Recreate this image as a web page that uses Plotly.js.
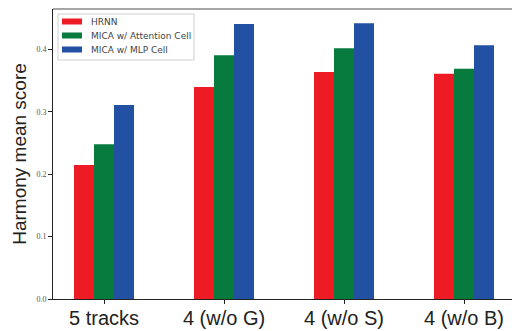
<!DOCTYPE html>
<html>
<head>
<meta charset="utf-8">
<script src="https://cdn.plot.ly/plotly-3.0.1.min.js"></script>
<style>html,body{margin:0;padding:0;background:#fff;}#chart{width:512px;height:331px;}</style>
</head>
<body>
<div id="chart"></div>
<script>
const categories = ["5 tracks", "4 (w/o G)", "4 (w/o S)", "4 (w/o B)"];
const seriesNames = ["HRNN", "MICA w/ Attention Cell", "MICA w/ MLP Cell"];
const hrnn = [0.215, 0.340, 0.364, 0.361];
const micaAttention = [0.248, 0.391, 0.402, 0.369];
const micaMLP = [0.311, 0.441, 0.442, 0.407];
const colors = ["#ED1C24", "#077A3D", "#2250A3"];
const yTicks = [0.0, 0.1, 0.2, 0.3, 0.4];

const W = 512, H = 331;
const M = {l: 53, r: 0, t: 9, b: 32};
const PW = W - M.l - M.r, PH = H - M.t - M.b;
const px = x => (x - M.l) / PW;          // pixel x -> paper x
const py = y => (H - M.b - y) / PH;       // pixel y -> paper y

const seriesValues = [hrnn, micaAttention, micaMLP];
const traces = seriesValues.map((vals, i) => ({
  type: "bar",
  name: seriesNames[i],
  x: categories,
  y: vals,
  marker: {color: colors[i], line: {width: 0}},
  hoverinfo: "none",
  showlegend: false
}));

// custom compact legend (matplotlib style)
const shapes = [{
  type: "line", xref: "paper", yref: "paper", x0: 0, x1: 1, y0: 1, y1: 1,
  line: {color: "#888", width: 1.5}
}, {
  type: "rect", xref: "paper", yref: "paper",
  x0: px(58), x1: px(194), y0: py(60), y1: py(14),
  line: {color: "#d0d0d0", width: 1}, fillcolor: "rgba(255,255,255,0.85)"
}];
const annotations = [];
seriesNames.forEach((name, i) => {
  const cy = 21.5 + i * 14;
  shapes.push({
    type: "rect", xref: "paper", yref: "paper",
    x0: px(62), x1: px(82), y0: py(cy + 3), y1: py(cy - 3),
    line: {width: 0}, fillcolor: colors[i]
  });
  annotations.push({
    xref: "paper", yref: "paper", x: px(89), y: py(cy),
    xanchor: "left", yanchor: "middle", showarrow: false,
    text: name, font: {family: "DejaVu Sans", size: 9, color: "#444"}
  });
});

const layout = {
  width: W, height: H,
  margin: {l: M.l, r: M.r, t: M.t, b: M.b, pad: 0},
  paper_bgcolor: "#fff", plot_bgcolor: "#fff",
  barmode: "group",
  bargap: 0.5,
  bargroupgap: 0,
  showlegend: false,
  xaxis: {
    type: "category",
    range: [-0.425, 3.4],
    showline: true, linecolor: "#222", linewidth: 1,
    ticks: "outside", ticklen: 4, tickcolor: "#222",
    ticklabelstandoff: -3,
    tickfont: {family: "Liberation Sans", size: 20, color: "#222"},
    showgrid: false, zeroline: false, fixedrange: true
  },
  yaxis: {
    range: [0, 0.465],
    tickvals: yTicks,
    tickformat: ".1f",
    showline: true, linecolor: "#222", linewidth: 1,
    ticks: "outside", ticklen: 4, tickcolor: "#222",
    tickfont: {family: "Liberation Serif", size: 8, color: "#555"},
    showgrid: false, zeroline: false,
    title: {text: "Harmony mean score", font: {family: "Liberation Sans", size: 19, color: "#222"}, standoff: 4}
  },
  shapes: shapes,
  annotations: annotations
};

Plotly.newPlot("chart", traces, layout, {staticPlot: true, displayModeBar: false});
</script>
</body>
</html>
